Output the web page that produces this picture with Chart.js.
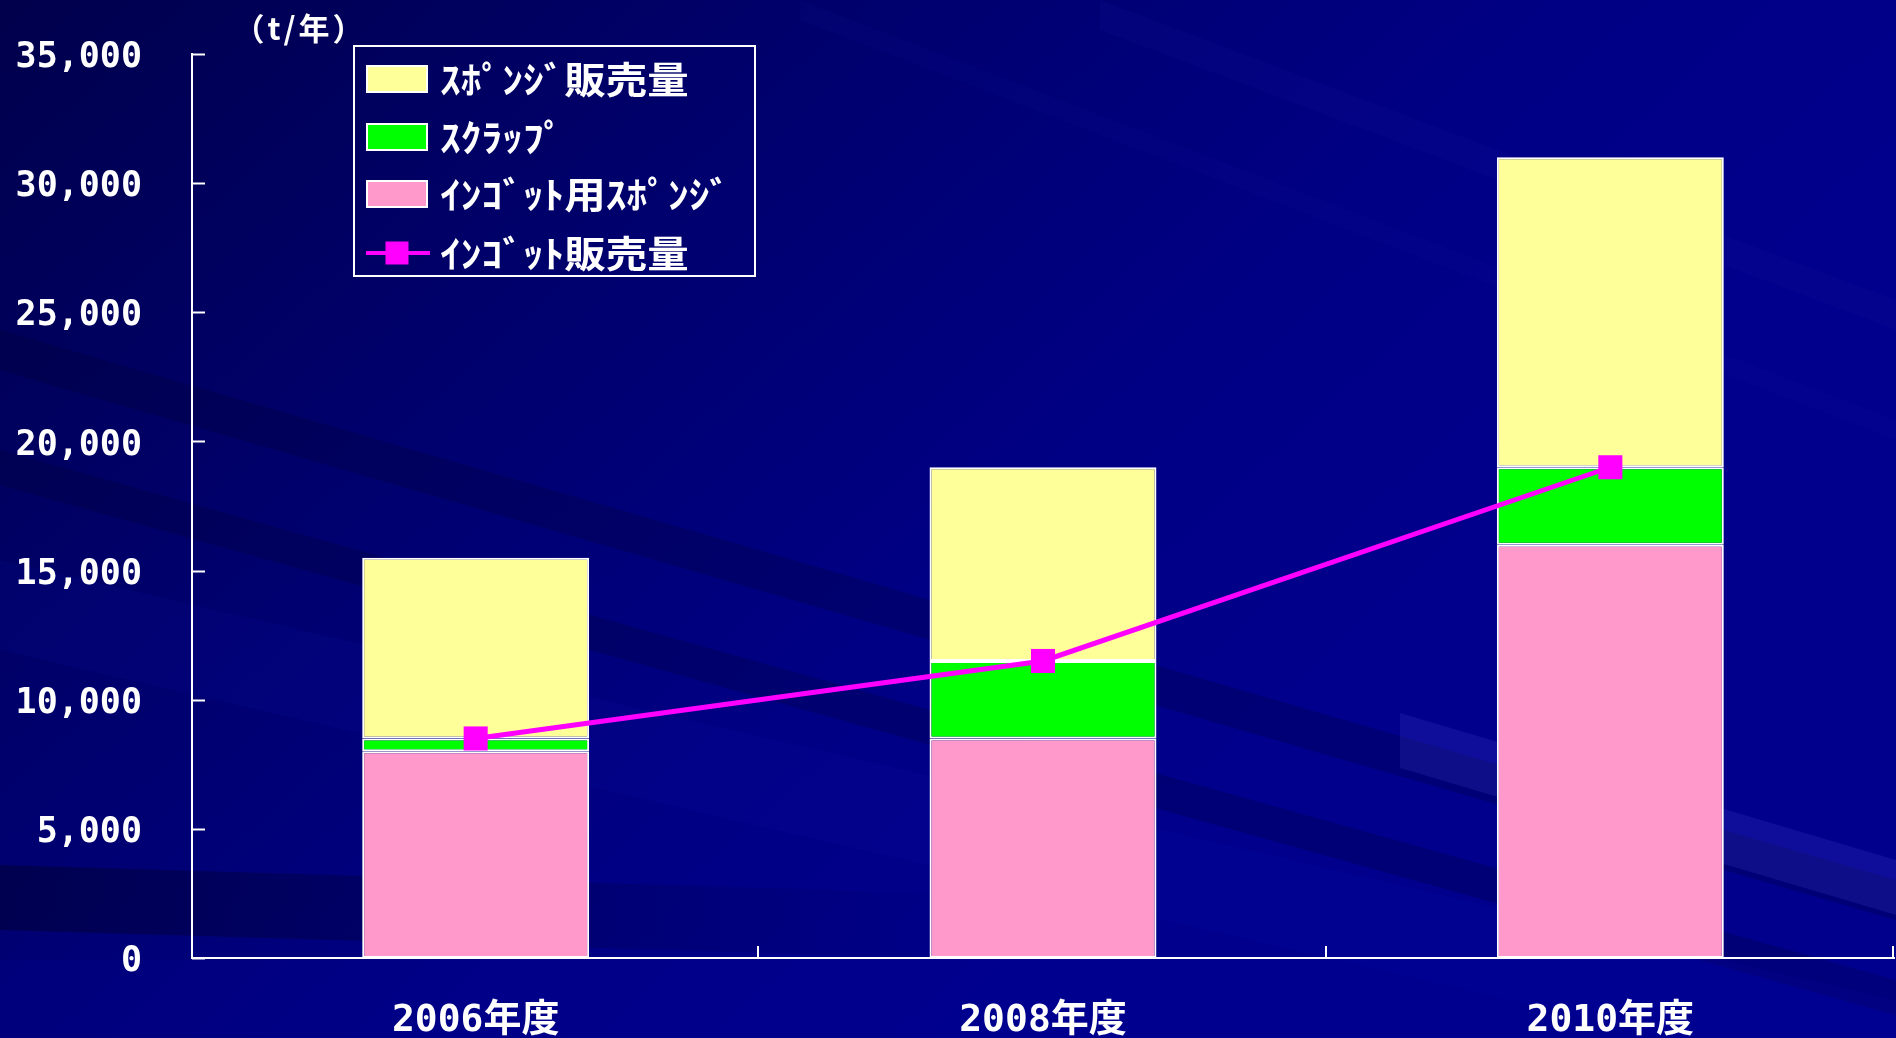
<!DOCTYPE html>
<html><head><meta charset="utf-8">
<script src="https://cdn.jsdelivr.net/npm/chart.js@4/dist/chart.umd.min.js"></script>
<style>
html,body{margin:0;padding:0;background:#000080;overflow:hidden}
#wrap{position:relative;width:1896px;height:1038px}
canvas{display:block}
</style></head><body>
<div id="wrap"><canvas id="c" width="1896" height="1038"></canvas></div>
<script>
// ---- data ----
const categories = ['2006年度', '2008年度', '2010年度'];
const ingotSponge = [8000, 8500, 16000];   // ｲﾝｺﾞｯﾄ用ｽﾎﾟﾝｼﾞ (pink)
const scrap = [500, 3000, 3000];           // ｽｸﾗｯﾌﾟ (green)
const spongeSales = [7000, 7500, 12000];   // ｽﾎﾟﾝｼﾞ販売量 (yellow)
const ingotSales = [8500, 11500, 19000];   // ｲﾝｺﾞｯﾄ販売量 (line)
const yTickValues = [0, 5000, 10000, 15000, 20000, 25000, 30000, 35000];
const seriesNames = ['ｲﾝｺﾞｯﾄ用ｽﾎﾟﾝｼﾞ', 'ｽｸﾗｯﾌﾟ', 'ｽﾎﾟﾝｼﾞ販売量', 'ｲﾝｺﾞｯﾄ販売量'];
const unitLabel = '（t/年）';
const legendOrder = [2, 1, 0, 3];

const WHITE = '#ffffff';
const MONO = '"DejaVu Sans Mono", "Noto Sans CJK JP", monospace';
const CJK = '"Noto Sans CJK JP", "DejaVu Sans", sans-serif';

// ---- background ----
const bgPlugin = {
  id: 'bg',
  beforeDraw(chart) {
    const ctx = chart.ctx, W = chart.width, H = chart.height;
    ctx.save();
    const g = ctx.createLinearGradient(0, 0, W * 0.5, H);
    g.addColorStop(0, '#00004c');
    g.addColorStop(0.4, '#00006c');
    g.addColorStop(0.75, '#000084');
    g.addColorStop(1, '#00008c');
    ctx.fillStyle = g;
    ctx.fillRect(0, 0, W, H);
    function band(x0, y0, x1, y1, t, color) {
      ctx.beginPath();
      ctx.moveTo(x0, y0); ctx.lineTo(x1, y1); ctx.lineTo(x1, y1 + t); ctx.lineTo(x0, y0 + t);
      ctx.closePath(); ctx.fillStyle = color; ctx.fill();
    }
    band(0, 330, 1896, 880, 40, 'rgba(0,0,40,0.22)');
    band(0, 450, 1896, 980, 35, 'rgba(0,0,40,0.22)');
    band(0, 560, 1896, 1000, 90, 'rgba(20,20,170,0.12)');
    band(1400, 713, 1896, 860, 55, 'rgba(70,70,210,0.2)');
    band(1100, 0, 1896, 300, 30, 'rgba(30,30,170,0.10)');
    band(800, 0, 1896, 420, 20, 'rgba(30,30,170,0.08)');
    const dg = ctx.createLinearGradient(0, 0, 1000, 0);
    dg.addColorStop(0, 'rgba(0,0,40,0.45)');
    dg.addColorStop(1, 'rgba(0,0,40,0)');
    band(0, 865, 1000, 895, 65, dg);
    ctx.fillStyle = 'rgba(0,0,150,0.22)';
    ctx.fillRect(0, 960, W, H - 960);
    ctx.restore();
  }
};

// ---- inward ticks, unit label, legend ----
const decoPlugin = {
  id: 'deco',
  afterDraw(chart) {
    const ctx = chart.ctx;
    const xs = chart.scales.x, ys = chart.scales.y;
    ctx.save();
    ctx.strokeStyle = WHITE;
    ctx.lineWidth = 2;
    yTickValues.forEach(v => {
      const py = Math.round(ys.getPixelForValue(v)) + 0.5;
      ctx.beginPath(); ctx.moveTo(xs.left, py); ctx.lineTo(xs.left + 13, py); ctx.stroke();
    });
    const cw = (xs.right - xs.left) / categories.length;
    for (let k = 1; k <= categories.length; k++) {
      const px = Math.round(xs.left + k * cw) - 1;
      ctx.beginPath(); ctx.moveTo(px, ys.bottom); ctx.lineTo(px, ys.bottom - 12); ctx.stroke();
    }
    ctx.fillStyle = WHITE;
    ctx.font = 'bold 31px ' + CJK;
    ctx.textAlign = 'center';
    ctx.textBaseline = 'middle';
    try { ctx.letterSpacing = '3px'; } catch (e) {}
    ctx.fillText(unitLabel, 300, 28);
    try { ctx.letterSpacing = '0px'; } catch (e) {}

    const bx = 354, by = 46, bw = 401, bh = 230;
    ctx.lineWidth = 2;
    ctx.strokeStyle = WHITE;
    ctx.strokeRect(bx, by, bw, bh);
    const rowY = [79, 137, 194, 253];
    legendOrder.forEach((di, r) => {
      const ds = chart.data.datasets[di];
      const cy = rowY[r];
      if (ds.type === 'line') {
        ctx.strokeStyle = ds.borderColor;
        ctx.lineWidth = 4;
        ctx.beginPath(); ctx.moveTo(366, cy); ctx.lineTo(430, cy); ctx.stroke();
        ctx.fillStyle = ds.pointBackgroundColor;
        ctx.fillRect(397 - 11.5, cy - 11.5, 23, 23);
      } else {
        ctx.fillStyle = ds.backgroundColor;
        ctx.fillRect(367, cy - 13, 60, 26);
        ctx.strokeStyle = WHITE;
        ctx.lineWidth = 2;
        ctx.strokeRect(367, cy - 13, 60, 26);
      }
      ctx.save();
      ctx.translate(440, cy + 1);
      ctx.scale(1.12, 1);
      ctx.fillStyle = WHITE;
      ctx.font = 'bold 37px ' + CJK;
      ctx.textAlign = 'left';
      ctx.textBaseline = 'middle';
      ctx.fillText(ds.label, 0, 0);
      ctx.restore();
    });
    ctx.restore();
  }
};

const barCommon = {
  type: 'bar',
  borderColor: WHITE,
  borderWidth: 2,
  borderSkipped: false,
  barPercentage: 0.4,
  categoryPercentage: 1.0,
  stack: 'bars',
  order: 1
};

new Chart(document.getElementById('c'), {
  data: {
    labels: categories,
    datasets: [
      Object.assign({}, barCommon, { label: seriesNames[0], data: ingotSponge, backgroundColor: '#ff99cc' }),
      Object.assign({}, barCommon, { label: seriesNames[1], data: scrap, backgroundColor: '#00ff00' }),
      Object.assign({}, barCommon, { label: seriesNames[2], data: spongeSales, backgroundColor: '#ffff99' }),
      {
        type: 'line', label: seriesNames[3], data: ingotSales,
        borderColor: '#ff00ff', borderWidth: 5,
        pointStyle: 'rect', pointRadius: 17, pointHoverRadius: 17,
        pointBackgroundColor: '#ff00ff', pointBorderColor: '#ff00ff', pointBorderWidth: 0,
        stack: 'line', order: 0, tension: 0
      }
    ]
  },
  options: {
    responsive: false,
    animation: false,
    devicePixelRatio: 1,
    layout: { autoPadding: false, padding: { left: 0, top: 54, right: 2, bottom: 0 } },
    plugins: { legend: { display: false }, tooltip: { enabled: false } },
    scales: {
      x: {
        stacked: true,
        offset: true,
        grid: { display: false, drawTicks: false },
        border: { display: true, color: WHITE, width: 2 },
        ticks: { color: WHITE, padding: 40, font: { family: MONO, size: 38, weight: 'bold' } },
        afterFit(s) { s.height = 80; s.paddingLeft = 0; s.paddingRight = 0; }
      },
      y: {
        stacked: true,
        min: 0, max: 35000,
        afterBuildTicks(s) { s.ticks = yTickValues.map(v => ({ value: v })); },
        grid: { display: false, drawTicks: false },
        border: { display: true, color: WHITE, width: 2 },
        ticks: {
          color: WHITE, padding: 50, labelOffset: 4,
          font: { family: MONO, size: 35, weight: 'bold' },
          callback: v => v.toLocaleString('en-US')
        },
        afterFit(s) { s.width = 192; s.paddingTop = 0; s.paddingBottom = 0; }
      }
    }
  },
  plugins: [bgPlugin, decoPlugin]
});
</script>
</body></html>
